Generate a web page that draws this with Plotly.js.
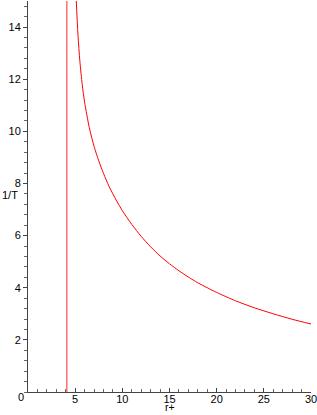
<!DOCTYPE html>
<html>
<head>
<meta charset="utf-8">
<script src="https://cdn.plot.ly/plotly-3.0.1.min.js"></script>
<style>html,body{margin:0;padding:0;background:#fff;}#chart{width:317px;height:415px;}</style>
</head>
<body>
<div id="chart"></div>
<script>
// Curve 1/T versus r+
const rPlus = [5.1, 5.3, 5.5, 5.75, 6.0, 6.5, 7.0, 7.5, 8.0, 8.6, 9.4, 10, 11, 12, 13, 14, 15, 16, 17, 18, 19, 20, 22, 24, 26, 28, 30];
const invT  = [15.15, 13.68, 12.69, 11.79, 11.12, 10.14, 9.43, 8.87, 8.39, 7.88, 7.33, 6.96, 6.43, 5.97, 5.57, 5.22, 4.92, 4.65, 4.41, 4.19, 4.0, 3.82, 3.50, 3.23, 3.0, 2.79, 2.61];
// Vertical line position
const lineX = [4.12, 4.12];
const lineY = [0, 15];
const xTicks = [5, 10, 15, 20, 25, 30];
const yTicks = [2, 4, 6, 8, 10, 12, 14];

const traces = [
  {x: lineX, y: lineY, mode: 'lines', line: {color: 'rgb(255,40,40)', width: 1}, hoverinfo: 'skip'},
  {x: rPlus, y: invT, mode: 'lines', line: {color: 'rgb(255,0,0)', width: 1, shape: 'spline', smoothing: 0.8}, hoverinfo: 'skip'}
];

const font = {family: 'Liberation Sans, Arial, sans-serif', size: 11, color: '#000'};

const layout = {
  width: 317, height: 415,
  margin: {l: 28, r: 6, t: 1, b: 23, pad: 0},
  paper_bgcolor: '#fff', plot_bgcolor: '#fff',
  showlegend: false,
  font: font,
  xaxis: {
    range: [0, 30], showgrid: false, zeroline: false,
    showline: true, linecolor: '#444', linewidth: 1,
    tickvals: xTicks, ticktext: xTicks.map(String),
    ticks: 'inside', ticklen: 4, tickcolor: '#444',
    ticklabeloverflow: 'allow', ticklabelstandoff: -3,
    minor: {dtick: 1, ticks: 'inside', ticklen: 3, tickcolor: '#666', showgrid: false},
    tickfont: font
  },
  yaxis: {
    range: [0, 15], showgrid: false, zeroline: false,
    showline: true, linecolor: '#444', linewidth: 1,
    tickvals: yTicks, ticktext: yTicks.map(String),
    ticks: 'outside', ticklen: 4, tickcolor: '#444',
    minor: {dtick: 0.4, ticks: 'outside', ticklen: 3, tickcolor: '#666', showgrid: false},
    tickfont: font
  },
  annotations: [
    {text: '1/T', xref: 'paper', yref: 'paper', x: -0.1, y: 0.505, xanchor: 'left', yanchor: 'middle', showarrow: false, font: font},
    {text: 'r+', xref: 'paper', yref: 'paper', x: 0.502, y: -0.059, xanchor: 'center', yanchor: 'bottom', showarrow: false, font: {family: font.family, size: 10.5, color: '#000'}},
    {text: '0', xref: 'paper', yref: 'paper', x: -0.026, y: -0.013, xanchor: 'center', yanchor: 'middle', showarrow: false, font: font}
  ]
};

Plotly.newPlot('chart', traces, layout, {staticPlot: true, displayModeBar: false});
</script>
</body>
</html>
